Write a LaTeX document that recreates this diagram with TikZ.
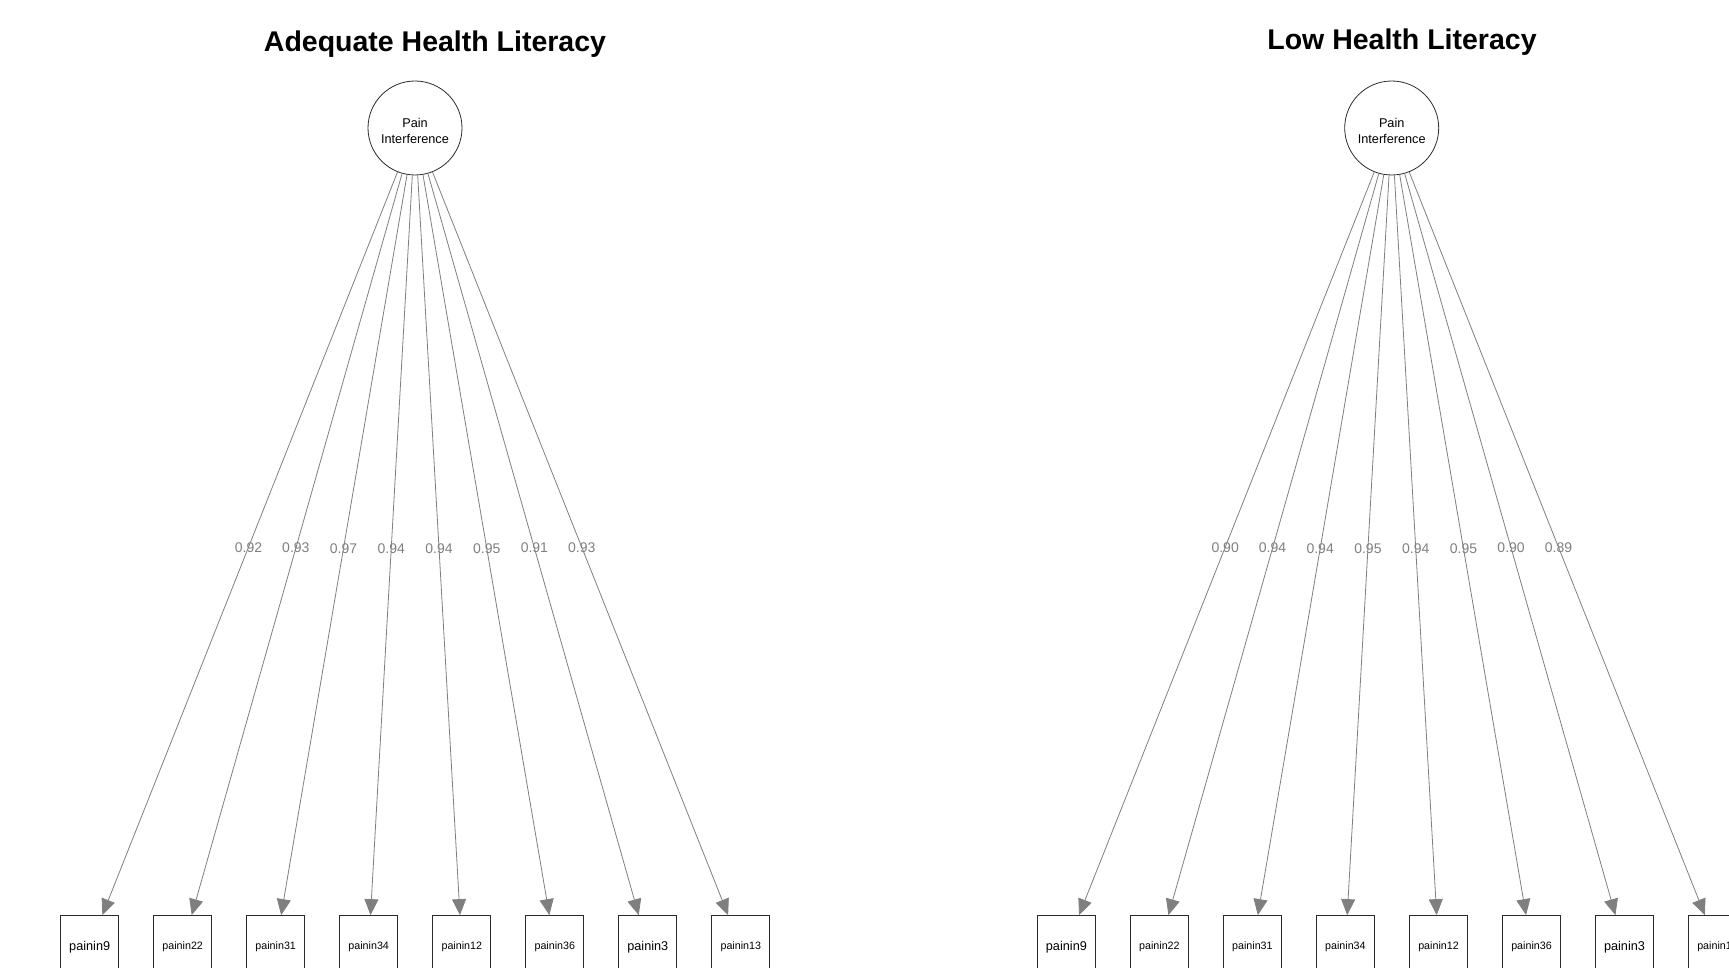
\documentclass[tikz,border=0pt]{standalone}
\usepackage{fontspec}
\setmainfont{Liberation Sans}
\definecolor{semxam}{HTML}{7F7F7F}
\definecolor{semvien}{HTML}{2B2B2B}
\def\mauduong{semxam}
\def\mauvien{semvien}
\usetikzlibrary{arrows.meta}

\begin{document}
\begin{tikzpicture}[x=1pt,y=-1pt,
	tiem/.style={shape=circle,draw=\mauvien,line width=.8pt,minimum size=94pt,inner sep=0pt,align=center,font=\fontsize{12.7}{16.5}\selectfont},
	bien/.style={shape=rectangle,draw=\mauvien,line width=.8pt,minimum width=58pt,minimum height=63pt,inner sep=0pt,font=\fontsize{10.7}{12}\selectfont},
	bienlon/.style={bien,font=\fontsize{12.7}{14}\selectfont},
	tai/.style={draw=\mauduong,line width=.8pt,-{Triangle[length=16pt,width=14pt]}},
	heso/.style={pos=.505,inner sep=0pt,text=\mauduong,font=\fontsize{14}{16}\selectfont},
	tieude/.style={anchor=base,font=\bfseries\fontsize{28.5}{34}\selectfont}]
		\useasboundingbox (0,0) rectangle (1729,968);
		\clip (0,0) rectangle (1729,968);
		% adequate health literacy
		\path (435,52) node [tieude] (tdA) {Adequate Health Literacy};
		\path (415,128) node [tiem] (A) {\rule{0pt}{15pt}Pain\\Interference};
		\path (89.7,947) node [bienlon] (A1) {painin9}
		(182.7,947) node [bien] (A2) {painin22}
		(275.7,947) node [bien] (A3) {painin31}
		(368.7,947) node [bien] (A4) {painin34}
		(461.8,947) node [bien] (A5) {painin12}
		(554.8,947) node [bien] (A6) {painin36}
		(647.8,947) node [bienlon] (A7) {painin3}
		(740.8,947) node [bien] (A8) {painin13}
		;
		\draw[tai] (A) -- node[heso]{0.92} (A1);
		\draw[tai] (A) -- node[heso]{0.93} (A2);
		\draw[tai] (A) -- node[heso]{0.97} (A3);
		\draw[tai] (A) -- node[heso]{0.94} (A4);
		\draw[tai] (A) -- node[heso]{0.94} (A5);
		\draw[tai] (A) -- node[heso]{0.95} (A6);
		\draw[tai] (A) -- node[heso]{0.91} (A7);
		\draw[tai] (A) -- node[heso]{0.93} (A8);
		% low health literacy
		\path (1402,50) node [tieude] (tdL) {Low Health Literacy};
		\path (1391.7,128) node [tiem] (L) {\rule{0pt}{15pt}Pain\\Interference};
		\path (1066.4,947) node [bienlon] (L1) {painin9}
		(1159.4,947) node [bien] (L2) {painin22}
		(1252.4,947) node [bien] (L3) {painin31}
		(1345.4,947) node [bien] (L4) {painin34}
		(1438.5,947) node [bien] (L5) {painin12}
		(1531.5,947) node [bien] (L6) {painin36}
		(1624.5,947) node [bienlon] (L7) {painin3}
		(1717.5,947) node [bien] (L8) {painin13}
		;
		\draw[tai] (L) -- node[heso]{0.90} (L1);
		\draw[tai] (L) -- node[heso]{0.94} (L2);
		\draw[tai] (L) -- node[heso]{0.94} (L3);
		\draw[tai] (L) -- node[heso]{0.95} (L4);
		\draw[tai] (L) -- node[heso]{0.94} (L5);
		\draw[tai] (L) -- node[heso]{0.95} (L6);
		\draw[tai] (L) -- node[heso]{0.90} (L7);
		\draw[tai] (L) -- node[heso]{0.89} (L8);
	\end{tikzpicture}
\end{document}
